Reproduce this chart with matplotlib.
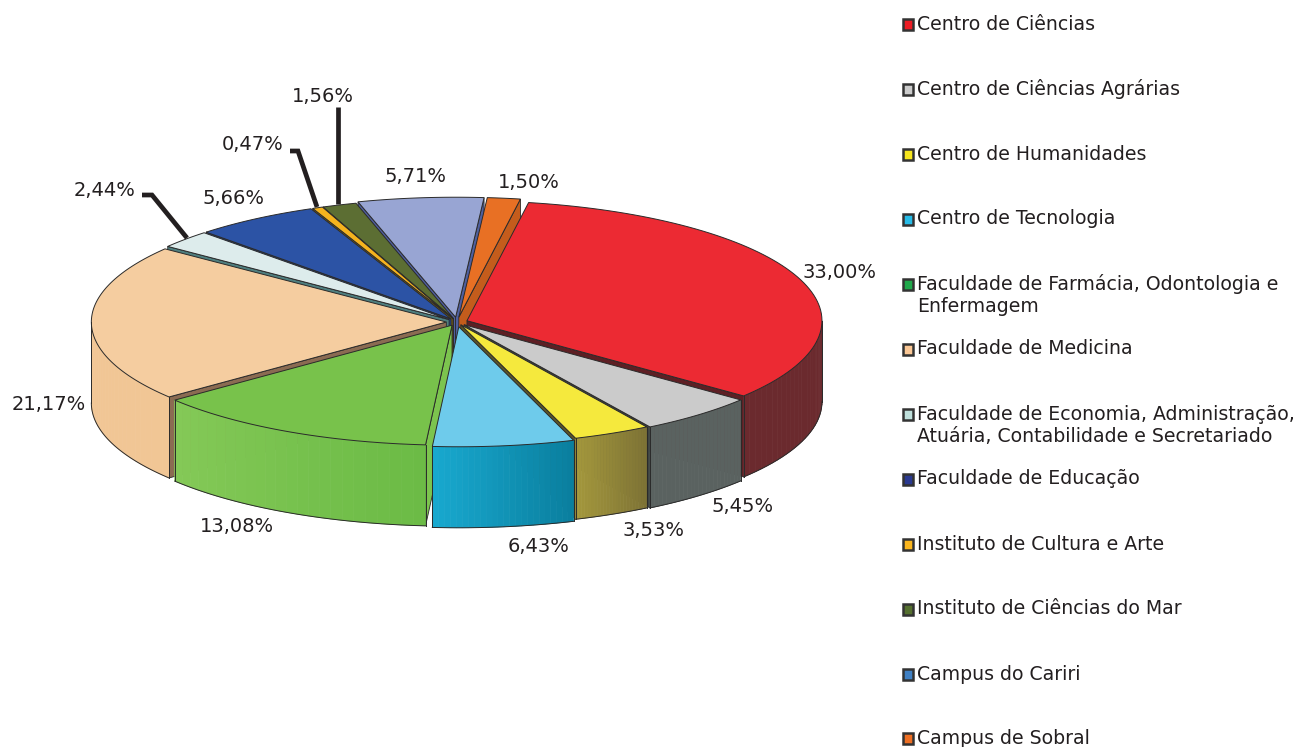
import numpy as np
import matplotlib
matplotlib.use("Agg")
import matplotlib.pyplot as plt
from matplotlib.patches import Polygon, Rectangle

values = [33.00, 5.45, 3.53, 6.43, 13.08, 21.17, 2.44, 5.66, 0.47, 1.56, 5.71, 1.50]
value_labels = ["33,00%", "5,45%", "3,53%", "6,43%", "13,08%", "21,17%",
                "2,44%", "5,66%", "0,47%", "1,56%", "5,71%", "1,50%"]
label_x = [839, 743, 653, 539, 237, 49, 105, 233, 253, 323, 415, 529]
label_y = [272, 505, 529, 545, 526, 403, 189, 197, 143, 95, 176, 181]
explode = [0.03, 0.03, 0.025, 0.04, 0.03, 0.03, 0.03, 0.03, 0.03, 0.03, 0.04, 0.04]

top_colors = ["#ec2a33", "#cbcbcb", "#f5e93d", "#6ecbeb", "#78c24b", "#f5cda0",
              "#ddecec", "#2c53a5", "#f5b31e", "#5c6e33", "#98a5d3", "#e87024"]
wall_left = ["#6b2a2e", "#5a6260", "#a3973c", "#18a8ce", "#84c957", "#f1c695",
             "#7aa0a0", "#1f3f80", "#b08010", "#46552a", "#6f7cab", "#c45c1c"]
wall_right = ["#6b2a2e", "#5a6260", "#7e7335", "#0a7f9f", "#6cbb46", "#f1c695",
              "#7aa0a0", "#1f3f80", "#b08010", "#46552a", "#6f7cab", "#c45c1c"]
cut_colors = ["#5e1f24", "#3f4543", "#5c5628", "#2a7f9a", "#7cc44e", "#8b6b52",
              "#4f7f7f", "#1f3f80", "#8a6a10", "#3c4a22", "#4f5f9f", "#c45c1c"]

legend_names = ["Centro de Ciências", "Centro de Ciências Agrárias", "Centro de Humanidades",
                "Centro de Tecnologia", "Faculdade de Farmácia, Odontologia e\nEnfermagem",
                "Faculdade de Medicina",
                "Faculdade de Economia, Administração,\nAtuária, Contabilidade e Secretariado",
                "Faculdade de Educação", "Instituto de Cultura e Arte",
                "Instituto de Ciências do Mar", "Campus do Cariri", "Campus de Sobral"]
legend_colors = ["#ed1c24", "#cccccc", "#f7e61e", "#27bce8", "#1fa84a", "#fbc896",
                 "#bfe0dc", "#2a3990", "#fbb61e", "#55702f", "#3f80c4", "#ee6f23"]
legend_y = [24, 89, 154, 219, 284, 349, 414, 479, 544, 609, 674, 738]

# leader lines for the three small slices
leaders = [([142, 152, 187], [195, 195, 238]),
           ([290, 298, 317], [151, 151, 207]),
           ([338, 338], [107, 204])]

CX, CY = 457, 322
A, B = 355, 120
DEPTH = 81
START = 10.0
TEXT = "#231f20"


def ring(theta, ox, oy):
    t = np.radians(theta)
    return ox + A * np.sin(t), oy - B * np.cos(t)


def mix(c1, c2, f):
    r1 = np.array(matplotlib.colors.to_rgb(c1))
    r2 = np.array(matplotlib.colors.to_rgb(c2))
    return tuple(r1 * (1 - f) + r2 * f)


def draw_slice(ax, i, t1, t2):
    mid = np.radians((t1 + t2) / 2)
    ox = CX + explode[i] * A * np.sin(mid)
    oy = CY - explode[i] * B * np.cos(mid)
    edge = "#2a2a2a"

    # cut faces, only the ones turned toward the viewer
    for t, normal in ((t1, t1 - 90), (t2, t2 + 90)):
        if np.cos(np.radians(normal)) < 0:
            x, y = ring(t, ox, oy)
            pts = [(ox, oy), (x, y), (x, y + DEPTH), (ox, oy + DEPTH)]
            ax.add_patch(Polygon(pts, fc=cut_colors[i], ec=edge, lw=0.6))

    # outer wall, front half only
    lo, hi = max(t1, 90), min(t2, 270)
    if hi > lo:
        steps = np.linspace(lo, hi, 25)
        for k in range(len(steps) - 1):
            xa, ya = ring(steps[k], ox, oy)
            xb, yb = ring(steps[k + 1], ox, oy)
            col = mix(wall_right[i], wall_left[i], k / (len(steps) - 2))
            ax.add_patch(Polygon([(xa, ya), (xb, yb), (xb, yb + DEPTH), (xa, ya + DEPTH)],
                                 fc=col, ec=col, lw=0.5))
        fine = np.linspace(lo, hi, 60)
        x, y = ring(fine, ox, oy)
        ax.plot(x, y + DEPTH, color=edge, lw=0.7)
        ax.plot([x[0], x[0]], [y[0], y[0] + DEPTH], color=edge, lw=0.7)
        ax.plot([x[-1], x[-1]], [y[-1], y[-1] + DEPTH], color=edge, lw=0.7)

    # top face
    fine = np.linspace(t1, t2, 80)
    x, y = ring(fine, ox, oy)
    pts = [(ox, oy)] + list(zip(x, y))
    ax.add_patch(Polygon(pts, closed=True, fc=top_colors[i], ec=edge, lw=0.7))


def main():
    fig = plt.figure(figsize=(12.98, 7.47), dpi=100)
    ax = fig.add_axes([0, 0, 1, 1])
    ax.set_xlim(0, 1298)
    ax.set_ylim(747, 0)
    ax.axis("off")

    sweep = np.array(values) / sum(values) * 360
    ends = START + np.cumsum(sweep)
    starts = ends - sweep
    mids = np.radians((starts + ends) / 2)
    for i in np.argsort(-np.cos(mids)):
        draw_slice(ax, i, starts[i], ends[i])

    for xs, ys in leaders:
        ax.plot(xs, ys, color="#231f20", lw=3.4, solid_joinstyle="miter", solid_capstyle="butt")

    for txt, x, y in zip(value_labels, label_x, label_y):
        ax.text(x, y + 1, txt, ha="center", va="center", fontsize=14, color=TEXT)

    for name, col, y in zip(legend_names, legend_colors, legend_y):
        ax.add_patch(Rectangle((902.5, y - 5), 10.5, 10.5, fc=col, ec="#333333", lw=1.8))
        ax.text(917, y, name.split("\n")[0], ha="left", va="center", fontsize=13.6, color=TEXT)
        if "\n" in name:
            ax.text(917, y + 23, name.split("\n")[1], ha="left", va="center",
                    fontsize=13.6, color=TEXT)

    fig.savefig("out.png", dpi=100)


if __name__ == "__main__":
    main()
